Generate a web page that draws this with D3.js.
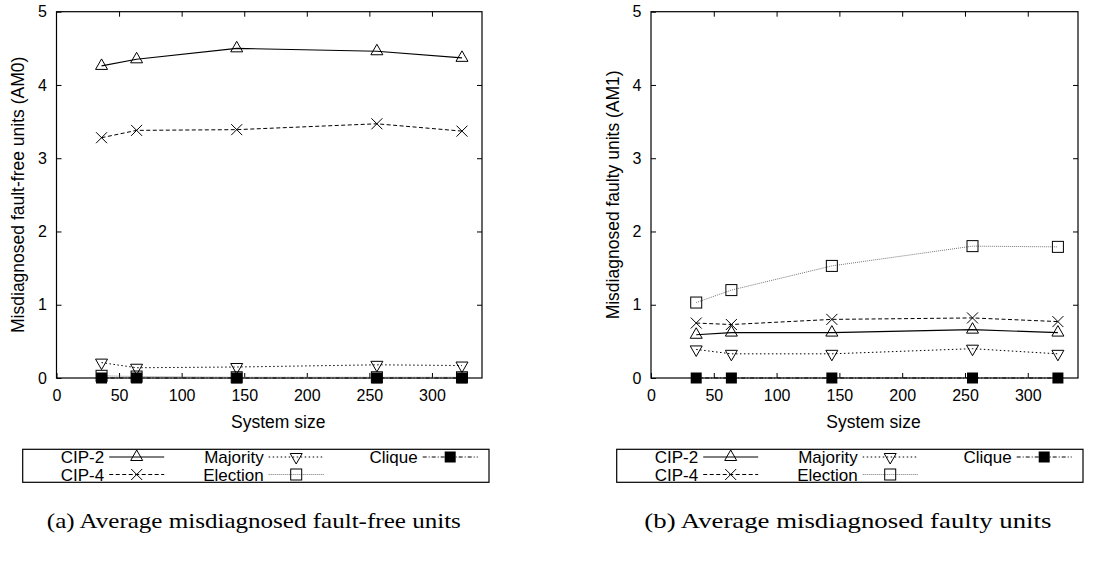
<html>
<head>
<script src="https://d3js.org/d3.v7.min.js"></script>
<style>
body {margin: 0; background: white;}
svg {font-family: "Liberation Sans", Arial, sans-serif;}
</style>
</head>
<body>
<svg width="1098" height="565"></svg>
<script>

// system sizes (x values)
var sizes = [36, 64, 144, 256, 324];
var xTicks = [0, 50, 100, 150, 200, 250, 300];
var yTicks = [0, 1, 2, 3, 4, 5];

// AM0 - misdiagnosed fault-free units
var cip2Am0     = [4.26, 4.35, 4.50, 4.46, 4.37];
var cip4Am0     = [3.28, 3.38, 3.39, 3.47, 3.37];
var majorityAm0 = [0.21, 0.14, 0.15, 0.18, 0.17];
var electionAm0 = [0.03, 0.02, 0.01, 0.01, 0.01];
var cliqueAm0   = [0, 0, 0, 0, 0];

// AM1 - misdiagnosed faulty units
var cip2Am1     = [0.59, 0.62, 0.62, 0.66, 0.62];
var cip4Am1     = [0.75, 0.73, 0.80, 0.82, 0.77];
var majorityAm1 = [0.39, 0.33, 0.33, 0.40, 0.33];
var electionAm1 = [1.03, 1.20, 1.53, 1.80, 1.79];
var cliqueAm1   = [0, 0, 0, 0, 0];

var seriesNames = ['CIP-2', 'CIP-4', 'Majority', 'Election', 'Clique'];
var captions = ['(a) Average misdiagnosed fault-free units', '(b) Average misdiagnosed faulty units'];
var yLabels = ['Misdiagnosed fault-free units (AM0)', 'Misdiagnosed faulty units (AM1)'];

var styles = {
  'CIP-2':    {dash: null,      color: '#000', width: 1.1, marker: 'tri'},
  'CIP-4':    {dash: '4,2.5',   color: '#000', width: 1,   marker: 'cross'},
  'Majority': {dash: '1.5,2.5', color: '#000', width: 1,   marker: 'tridown'},
  'Election': {dash: '1,1',     color: '#777', width: 1,   marker: 'box'},
  'Clique':   {dash: '4,2,1,2', color: '#000', width: 1,   marker: 'fbox'}
};

var svg = d3.select('svg');

function drawMarker(g, type, cx, cy) {
  if (type == 'tri') {
    g.append('path').attr('d', 'M'+cx+','+(cy-7)+'L'+(cx+6)+','+(cy+3.5)+'L'+(cx-6)+','+(cy+3.5)+'Z')
      .attr('fill', 'none').attr('stroke', '#000').attr('stroke-width', 1);
  } else if (type == 'tridown') {
    g.append('path').attr('d', 'M'+cx+','+(cy+7)+'L'+(cx+6)+','+(cy-3.5)+'L'+(cx-6)+','+(cy-3.5)+'Z')
      .attr('fill', 'none').attr('stroke', '#000').attr('stroke-width', 1);
  } else if (type == 'cross') {
    g.append('path').attr('d', 'M'+(cx-5.5)+','+(cy-5.5)+'L'+(cx+5.5)+','+(cy+5.5)+'M'+(cx-5.5)+','+(cy+5.5)+'L'+(cx+5.5)+','+(cy-5.5))
      .attr('stroke', '#000').attr('stroke-width', 1);
  } else if (type == 'box') {
    g.append('rect').attr('x', cx-5.5).attr('y', cy-5.5).attr('width', 11).attr('height', 11)
      .attr('fill', 'none').attr('stroke', '#000').attr('stroke-width', 1);
  } else if (type == 'fbox') {
    g.append('rect').attr('x', cx-5.5).attr('y', cy-5.5).attr('width', 11).attr('height', 11)
      .attr('fill', '#000');
  }
}

function drawPanel(left, right, values, yLabel, caption, legendX, capW) {
  var top = 11.7, bottom = 378;
  var x = d3.scaleLinear().domain([0, 340]).range([left, right]);
  var y = d3.scaleLinear().domain([0, 5]).range([bottom, top]);

  // axes with inward ticks, mirrored on top/right
  svg.append('g').attr('transform', 'translate(0,'+bottom+')')
    .call(d3.axisBottom(x).tickValues(xTicks).tickSizeInner(-5).tickSizeOuter(0).tickPadding(12).tickFormat(d3.format('d')))
    .call(function(g) { g.select('.domain').remove(); g.selectAll('text').attr('font-size', 16).attr('font-family', null); });
  svg.append('g').attr('transform', 'translate('+left+',0)')
    .call(d3.axisLeft(y).tickValues(yTicks).tickSizeInner(-5).tickSizeOuter(0).tickPadding(9.5).tickFormat(d3.format('d')))
    .call(function(g) { g.select('.domain').remove(); g.selectAll('text').attr('font-size', 16).attr('font-family', null); });
  svg.append('g').attr('transform', 'translate(0,'+top+')')
    .call(d3.axisTop(x).tickValues(xTicks.slice(1)).tickSizeInner(-5).tickSizeOuter(0).tickFormat(''))
    .call(function(g) { g.select('.domain').remove(); });
  svg.append('g').attr('transform', 'translate('+right+',0)')
    .call(d3.axisRight(y).tickValues(yTicks.slice(1, 5)).tickSizeInner(-5).tickSizeOuter(0).tickFormat(''))
    .call(function(g) { g.select('.domain').remove(); });

  svg.append('rect').attr('x', left).attr('y', top).attr('width', right-left).attr('height', bottom-top)
    .attr('fill', 'none').attr('stroke', '#000').attr('stroke-width', 1.2);

  // series lines + markers (draw Election & Clique first so CIP lines sit on top)
  var order = ['Election', 'Clique', 'Majority', 'CIP-4', 'CIP-2'];
  var line = d3.line().x(function(d) { return x(d[0]); }).y(function(d) { return y(d[1]); });
  order.forEach(function(name) {
    var st = styles[name];
    var pts = sizes.map(function(s, i) { return [s, values[seriesNames.indexOf(name)][i]]; });
    var g = svg.append('g');
    g.append('path').datum(pts).attr('d', line).attr('fill', 'none')
      .attr('stroke', st.color).attr('stroke-width', st.width).attr('stroke-dasharray', st.dash);
    pts.forEach(function(p) { drawMarker(g, st.marker, x(p[0]), y(p[1])); });
  });

  // axis titles
  svg.append('text').attr('transform', 'translate('+(left-38.5)+','+((top+bottom)/2)+') rotate(-90)')
    .attr('text-anchor', 'middle').attr('dy', '0.35em').attr('font-size', 17.5).text(yLabel);
  svg.append('text').attr('x', (left+right)/2 + 9).attr('y', 428)
    .attr('text-anchor', 'middle').attr('font-size', 17.5).text('System size');

  // legend
  var boxW = 466.3, boxTop = 449.3, boxH = 33;
  svg.append('rect').attr('x', legendX).attr('y', boxTop).attr('width', boxW).attr('height', boxH)
    .attr('fill', 'none').attr('stroke', '#000').attr('stroke-width', 1.2);
  var colEnds = [81.5, 241, 395];
  var rowY = [457, 474.5];
  seriesNames.forEach(function(name, i) {
    var col = Math.floor(i / 2), row = i % 2;
    var tx = legendX + colEnds[col], ty = rowY[row];
    var st = styles[name];
    svg.append('text').attr('x', tx).attr('y', ty).attr('dy', '0.36em')
      .attr('text-anchor', 'end').attr('font-size', 17).text(name);
    var g = svg.append('g');
    g.append('line').attr('x1', tx+5).attr('x2', tx+60).attr('y1', ty).attr('y2', ty)
      .attr('stroke', st.color).attr('stroke-width', st.width).attr('stroke-dasharray', st.dash);
    drawMarker(g, st.marker, tx+32.5, ty);
  });

  // caption
  svg.append('text').attr('x', legendX + boxW/2 - 2).attr('y', 528)
    .attr('text-anchor', 'middle').attr('font-family', '"Liberation Serif", serif')
    .attr('font-size', 22).attr('textLength', capW).attr('lengthAdjust', 'spacingAndGlyphs').text(caption);
}

drawPanel(56.5, 482, [cip2Am0, cip4Am0, majorityAm0, electionAm0, cliqueAm0], yLabels[0], captions[0], 22.7, 414);
drawPanel(651, 1078, [cip2Am1, cip4Am1, majorityAm1, electionAm1, cliqueAm1], yLabels[1], captions[1], 616.7, 407);

</script>
</body>
</html>
